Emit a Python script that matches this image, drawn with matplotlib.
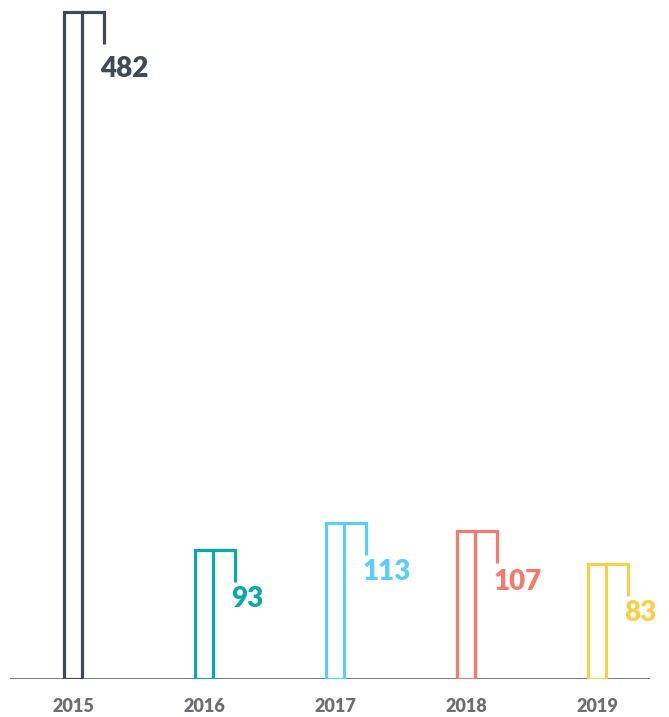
import numpy as np
import matplotlib.pyplot as plt

years = ['2015', '2016', '2017', '2018', '2019']
values = [482, 93, 113, 107, 83]
colors = ['#3f4a55', '#0aa9a4', '#5ccdf6', '#f47a6f', '#f6d04b']

# gap (px) between the end of each tab and the top of its label
label_gap = [12, 4, 4, 6, 4]

W, H = 669, 717
fig = plt.figure(figsize=(W / 100, H / 100), dpi=100)
ax = fig.add_axes([10 / W, 38 / H, 640 / W, 679 / H])

px = 131.0                  # pixels per category step
ymax = 679 * 482 / 667      # top of axes in data units
ypx = ymax / 679            # data units per pixel (vertical)

ax.set_xlim(-63 / px, 577 / px)
ax.set_ylim(0, ymax)

x = np.arange(len(years))
bw = 18 / px
tab = 22 / px
drop = 32 * ypx

ax.bar(x, values, width=bw, fill=False, edgecolor=colors, linewidth=2.3, zorder=3)

for xi, v, c, g in zip(x, values, colors, label_gap):
    xr = xi + bw / 2
    ax.plot([xr, xr + tab, xr + tab], [v, v, v - drop], color=c, lw=2.3,
            solid_capstyle='butt', solid_joinstyle='miter', zorder=3)
    ax.annotate(str(v), (xr + tab, v - drop), xytext=(-2.5, -g * 0.72), textcoords='offset points',
                ha='left', va='top', fontsize=20, fontweight='heavy', family='Lato', color=c)

ax.axhline(0, color='#6d6e71', lw=1.3, zorder=2)

ax.set_xticks(x)
ax.set_xticklabels(years, fontsize=13, fontweight='heavy', family='Lato', color='#6d6e71')
ax.tick_params(axis='x', length=0, pad=14)
ax.set_yticks([])
for s in ax.spines.values():
    s.set_visible(False)

fig.savefig('out.png', dpi=100)
